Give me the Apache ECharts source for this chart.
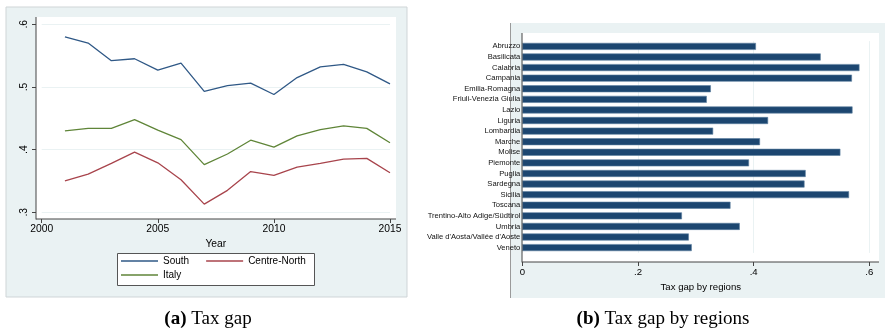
<!DOCTYPE html>
<html>
<head>
<meta charset="utf-8">
<script src="https://cdn.jsdelivr.net/npm/echarts@6/dist/echarts.min.js"></script>
<style>
    html, body { margin: 0; padding: 0; background: #fff; }
    #chart1 { width: 885px; height: 329px; }
</style>
</head>
<body>
<div id="chart1"></div>
<script>
    // panel (a): tax gap by year
    var years = [2001, 2002, 2003, 2004, 2005, 2006, 2007, 2008, 2009, 2010, 2011, 2012, 2013, 2014, 2015];
    var south = [0.580, 0.570, 0.542, 0.545, 0.527, 0.538, 0.493, 0.502, 0.506, 0.488, 0.515, 0.532, 0.536, 0.524, 0.505];
    var centreNorth = [0.350, 0.361, 0.378, 0.396, 0.379, 0.352, 0.313, 0.335, 0.365, 0.359, 0.372, 0.378, 0.385, 0.386, 0.363];
    var italy = [0.430, 0.434, 0.434, 0.448, 0.431, 0.416, 0.376, 0.393, 0.415, 0.404, 0.422, 0.432, 0.438, 0.434, 0.411];

    // panel (b): tax gap by regions
    var regions = ['Abruzzo', 'Basilicata', 'Calabria', 'Campania', 'Emilia-Romagna', 'Friuli-Venezia Giulia',
        'Lazio', 'Liguria', 'Lombardia', 'Marche', 'Molise', 'Piemonte', 'Puglia', 'Sardegna', 'Sicilia',
        'Toscana', 'Trentino-Alto Adige/Südtirol', 'Umbria', "Valle d'Aosta/Vallée d'Aoste", 'Veneto'];
    var regionGap = [0.404, 0.516, 0.583, 0.570, 0.326, 0.319, 0.571, 0.425, 0.330, 0.411, 0.550, 0.392,
        0.490, 0.488, 0.565, 0.360, 0.276, 0.376, 0.288, 0.293];

    var bg = '#eaf2f3';
    var axisColor = '#444';
    var sans = 'Liberation Sans, Arial, sans-serif';

    function pairs(ys) {
        return years.map(function(y, i) { return [y, ys[i]]; });
    }

    function stataNum(v) {
        if (Math.abs(v) < 1e-9) return '0';
        return v.toFixed(1).replace(/^0/, '');
    }

    function lineSeries(name, data, color) {
        return {
            name: name,
            type: 'line',
            xAxisIndex: 0,
            yAxisIndex: 0,
            data: pairs(data),
            symbol: 'none',
            lineStyle: { color: color, width: 1.3 },
            itemStyle: { color: color },
            animation: false
        };
    }

    var legendBase = {
        left: 121,
        padding: 0,
        itemWidth: 37,
        itemHeight: 1.6,
        icon: 'rect',
        selectedMode: false,
        textStyle: { fontSize: 10, color: '#000', fontFamily: sans }
    };

    var myChart = echarts.init(document.getElementById('chart1'), null, { renderer: 'canvas' });

    var option = {
        backgroundColor: '#fff',
        animation: false,
        textStyle: { fontFamily: sans },
        graphic: [
            // panel backgrounds
            { type: 'rect', z: -10, shape: { x: 6, y: 7, width: 401, height: 290 },
                style: { fill: bg, stroke: '#cfd5d7', lineWidth: 1 } },
            { type: 'rect', z: -10, shape: { x: 510, y: 23, width: 380, height: 275 },
                style: { fill: bg } },
            { type: 'line', z: -9, shape: { x1: 510.5, y1: 23, x2: 510.5, y2: 298 },
                style: { stroke: '#9a9a9a', lineWidth: 1 } },
            // plot regions
            { type: 'rect', z: -8, shape: { x: 36, y: 17, width: 360, height: 202 },
                style: { fill: '#fff' } },
            { type: 'rect', z: -8, shape: { x: 522, y: 33, width: 357, height: 229 },
                style: { fill: '#fff' } },
            // axis lines
            { type: 'line', z: 5, shape: { x1: 36, y1: 17, x2: 36, y2: 219.5 },
                style: { stroke: axisColor, lineWidth: 1 } },
            { type: 'line', z: 5, shape: { x1: 36, y1: 219, x2: 396, y2: 219 },
                style: { stroke: axisColor, lineWidth: 1 } },
            { type: 'line', z: 5, shape: { x1: 522, y1: 33, x2: 522, y2: 262.5 },
                style: { stroke: axisColor, lineWidth: 1 } },
            { type: 'line', z: 5, shape: { x1: 522, y1: 262, x2: 879, y2: 262 },
                style: { stroke: axisColor, lineWidth: 1 } },
            // legend box
            { type: 'rect', z: 3, shape: { x: 117.5, y: 253.5, width: 197, height: 32 },
                style: { fill: '#fff', stroke: '#555', lineWidth: 1 } },
            // sub-captions
            { type: 'text', z: 5, x: 208, y: 319,
                style: {
                    text: '{b|(a)} Tax gap',
                    align: 'center', verticalAlign: 'middle',
                    font: '19px "Liberation Serif", serif', fill: '#000',
                    rich: { b: { fontWeight: 'bold', fontSize: 19, fontFamily: 'Liberation Serif' } }
                } },
            { type: 'text', z: 5, x: 663, y: 319,
                style: {
                    text: '{b|(b)} Tax gap by regions',
                    align: 'center', verticalAlign: 'middle',
                    font: '19px "Liberation Serif", serif', fill: '#000',
                    rich: { b: { fontWeight: 'bold', fontSize: 19, fontFamily: 'Liberation Serif' } }
                } }
        ],
        legend: [
            Object.assign({}, legendBase, { data: ['South', 'Centre-North'], top: 256, itemGap: 17 }),
            Object.assign({}, legendBase, { data: ['Italy'], top: 270 })
        ],
        grid: [
            { left: 41.7, top: 24.3, width: 348.3, height: 188, containLabel: false },
            { left: 522.3, top: 41.1, width: 347, height: 211.8, containLabel: false }
        ],
        xAxis: [{
            gridIndex: 0,
            type: 'value',
            min: 2000,
            max: 2015,
            interval: 5,
            offset: 6.7,
            name: 'Year',
            nameLocation: 'middle',
            nameGap: 16,
            nameTextStyle: { fontSize: 10.3, color: '#000', fontFamily: sans },
            axisLine: { show: false },
            axisTick: { show: true, length: 4, lineStyle: { color: axisColor } },
            axisLabel: { fontSize: 10.3, color: '#000', margin: 5, fontFamily: sans,
                formatter: function(v) { return String(v); } },
            splitLine: { show: false }
        }, {
            gridIndex: 1,
            type: 'value',
            min: 0,
            max: 0.6,
            interval: 0.2,
            offset: 9.1,
            name: 'Tax gap by regions',
            nameLocation: 'middle',
            nameGap: 15,
            nameTextStyle: { fontSize: 9.6, color: '#000', fontFamily: sans, padding: [0, 0, 0, 10] },
            axisLine: { show: false },
            axisTick: { show: true, length: 4, lineStyle: { color: axisColor } },
            axisLabel: { fontSize: 9.6, color: '#000', margin: 5.5, fontFamily: sans, formatter: stataNum },
            splitLine: { show: true, lineStyle: { color: bg, width: 1 } }
        }],
        yAxis: [{
            gridIndex: 0,
            type: 'value',
            min: 0.3,
            max: 0.6,
            interval: 0.1,
            offset: 5.7,
            axisLine: { show: false },
            axisTick: { show: true, length: 4, lineStyle: { color: axisColor } },
            axisLabel: { fontSize: 10.3, color: '#000', margin: 7, rotate: 90, fontFamily: sans, formatter: stataNum },
            splitLine: { show: true, lineStyle: { color: bg, width: 1 } }
        }, {
            gridIndex: 1,
            type: 'category',
            data: regions,
            inverse: true,
            axisLine: { show: false },
            axisTick: { show: false },
            axisLabel: { fontSize: 7.6, color: '#111', margin: 2, interval: 0, fontFamily: sans },
            splitLine: { show: false }
        }],
        series: [
            lineSeries('South', south, '#2f5886'),
            lineSeries('Centre-North', centreNorth, '#a8444c'),
            lineSeries('Italy', italy, '#5f8538'),
            {
                name: 'Tax gap by regions',
                type: 'bar',
                xAxisIndex: 1,
                yAxisIndex: 1,
                data: regionGap,
                barWidth: 7,
                itemStyle: { color: '#1c4670', borderColor: '#5d7f9f', borderWidth: 0.6 },
                animation: false
            }
        ]
    };

    myChart.setOption(option);
</script>
</body>
</html>
